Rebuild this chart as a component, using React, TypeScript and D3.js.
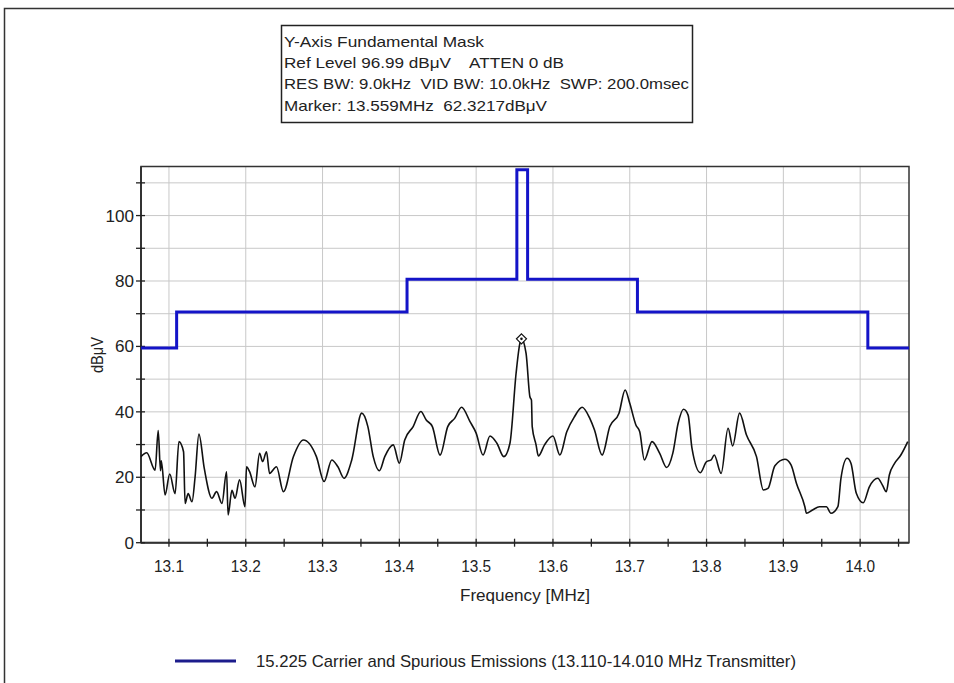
import React from "react";
import * as d3 from "d3";

// ---- data ----
const traceFreq = [
  13.0636, 13.071, 13.082, 13.086, 13.089, 13.09, 13.095, 13.101, 13.108, 13.113,
  13.119, 13.121, 13.125, 13.13, 13.134, 13.139, 13.146, 13.156, 13.162, 13.169,
  13.175, 13.177, 13.182, 13.186, 13.192, 13.199, 13.201, 13.205, 13.212, 13.218,
  13.222, 13.227, 13.231, 13.24, 13.249, 13.262, 13.275, 13.292, 13.302, 13.312,
  13.32, 13.328, 13.338, 13.351, 13.359, 13.366, 13.374, 13.381, 13.392, 13.4,
  13.407, 13.418, 13.428, 13.435, 13.443, 13.453, 13.463, 13.472, 13.481, 13.492,
  13.5, 13.509, 13.518, 13.527, 13.536, 13.544, 13.552, 13.557, 13.559, 13.565,
  13.57, 13.572, 13.573, 13.578, 13.581, 13.589, 13.6, 13.609, 13.618, 13.628,
  13.638, 13.648, 13.654, 13.664, 13.674, 13.686, 13.694, 13.7, 13.708, 13.713,
  13.719, 13.729, 13.739, 13.748, 13.756, 13.763, 13.77, 13.776, 13.781, 13.792,
  13.8, 13.806, 13.81, 13.819, 13.828, 13.834, 13.843, 13.852, 13.865, 13.874,
  13.88, 13.889, 13.902, 13.91, 13.917, 13.928, 13.93, 13.938, 13.947, 13.956,
  13.962, 13.971, 13.975, 13.983, 13.988, 13.995, 14.004, 14.012, 14.023, 14.029,
  14.034, 14.038, 14.045, 14.053, 14.062,
];
const traceLevel = [
  26.3, 27.5, 22.2, 34.3, 22, 25, 14.6, 21, 15, 30.9,
  27.8, 12, 15, 12.5, 20, 33.2, 22.7, 13.6, 15.6, 12,
  21.7, 8.5, 16, 13.6, 19.2, 11, 23.2, 21.7, 17.1, 27.3,
  24.8, 27.8, 21.2, 23.2, 15.6, 26.3, 31.4, 26.3, 18.7, 25.3,
  23.2, 19.7, 25.3, 39.6, 35.5, 26.3, 22, 26.3, 29.9, 24.3,
  31.4, 35.5, 40.1, 37.5, 35.5, 26.8, 35.5, 38, 41.4, 37,
  33.5, 26.8, 32.6, 30.4, 26.3, 30.4, 51.8, 61, 62.3, 57.9,
  44.6, 43.6, 35.5, 29.9, 26.5, 29.9, 32.6, 26.8, 33.9, 38.5,
  41.4, 38, 34.5, 26.8, 35.5, 39.6, 46.7, 42.6, 36, 33.9,
  25.3, 30.9, 27.3, 23, 27.3, 36.5, 40.8, 39, 28.9, 21.4,
  24.8, 25.3, 26.8, 21.2, 35, 29.6, 39.6, 32.9, 26.3, 16.1,
  16.6, 23.5, 25.5, 23.8, 18.2, 11, 9, 10, 11, 11,
  9, 11, 19.7, 25.8, 24.3, 15.1, 12.2, 17.1, 19.7, 17.6,
  15.6, 20.7, 24.3, 26.8, 30.9,
];
const maskFreq = [13.0636, 13.11, 13.41, 13.553, 13.567, 13.71, 14.01, 14.0636];
const maskLevel = [59.5, 70.5, 80.5, 114, 80.5, 70.5, 59.5, 59.5];
const markerFreq = 13.559;
const markerLevel = 62.3217;
const headerLines = [
  "Y-Axis Fundamental Mask",
  "Ref Level 96.99 dB\u03bcV    ATTEN 0 dB",
  "RES BW: 9.0kHz  VID BW: 10.0kHz  SWP: 200.0msec",
  "Marker: 13.559MHz  62.3217dB\u03bcV",
];
const headerWidths = [200, 280, 405, 263];
const xTickCount = 20; // 13.10 .. 14.05 by 0.05
const xLabelCount = 10; // 13.1 .. 14.0
const yTicks = [0, 10, 20, 30, 40, 50, 60, 70, 80, 90, 100, 110];
const yLabels = [0, 20, 40, 60, 80, 100];
const xTitle = "Frequency [MHz]";
const yTitle = "dB\u03bcV";
const legendText = "15.225 Carrier and Spurious Emissions (13.110-14.010 MHz Transmitter)";

const NARROW = "'Liberation Sans Narrow', 'Arial Narrow', 'Liberation Sans', Arial, sans-serif";
const SANS = "'Liberation Sans', Arial, sans-serif";

export default function App() {
  const left = 141, right = 909, top = 166.5, bottom = 542.7;
  const x = d3.scaleLinear().domain([13.0636, 14.0636]).range([left, right]);
  const y = d3.scaleLinear().domain([0, 115]).range([bottom, top]);

  const xTicks = d3.range(xTickCount).map((i) => 13.1 + i * 0.05);
  const xLabels = d3.range(xLabelCount).map((i) => 13.1 + i * 0.1);

  const traceLine = d3
    .line<number>()
    .x((_, i) => x(traceFreq[i]))
    .y((d) => y(d))
    .curve(d3.curveMonotoneX);
  const maskLine = d3
    .line<number>()
    .x((_, i) => x(maskFreq[i]))
    .y((d) => y(d))
    .curve(d3.curveStepAfter);

  const mx = x(markerFreq), my = y(markerLevel);

  return (
    <svg
      width={954}
      height={683}
      style={{ position: "absolute", left: 0, top: 0, background: "#fff" }}
    >
      <rect x={0} y={0} width={954} height={683} fill="#fff" />
      {/* outer frame */}
      <rect x={4.5} y={8.5} width={1000} height={1000} fill="none" stroke="#333" strokeWidth={1.5} />

      {/* header box */}
      <rect x={281.5} y={25.5} width={411} height={97} fill="#fff" stroke="#222" strokeWidth={1.5} />
      {headerLines.map((t, i) => (
        <text
          key={i}
          x={284}
          y={46.7 + i * 21.3}
          fontFamily={SANS}
          fontSize={15}
          fill="#222"
          textLength={headerWidths[i]}
          lengthAdjust="spacingAndGlyphs"
          style={{ whiteSpace: "pre" }}
        >
          {t}
        </text>
      ))}

      {/* grid */}
      {xLabels.map((v, i) => (
        <line key={"gx" + i} x1={x(v)} x2={x(v)} y1={top} y2={bottom} stroke="#c8c8c8" strokeWidth={1} />
      ))}
      {yTicks.slice(1).map((v, i) => (
        <line key={"gy" + i} x1={left} x2={right} y1={y(v)} y2={y(v)} stroke="#c8c8c8" strokeWidth={1} />
      ))}

      {/* plot border */}
      <rect x={left} y={top} width={right - left} height={bottom - top} fill="none" stroke="#333" strokeWidth={1.5} />
      <line x1={left} x2={left} y1={top} y2={bottom} stroke="#333" strokeWidth={2} />
      <line x1={left} x2={right} y1={bottom} y2={bottom} stroke="#333" strokeWidth={2} />

      {/* ticks */}
      {xTicks.map((v, i) => (
        <line key={"tx" + i} x1={x(v)} x2={x(v)} y1={bottom - 4} y2={bottom + 4} stroke="#222" strokeWidth={1.3} />
      ))}
      {yTicks.map((v, i) => (
        <line key={"ty" + i} x1={left - 5} x2={left + 4} y1={y(v)} y2={y(v)} stroke="#222" strokeWidth={1.3} />
      ))}
      {xLabels.map((v, i) => (
        <text
          key={"lx" + i}
          x={x(v)}
          y={572}
          textAnchor="middle"
          fontFamily={NARROW}
          fontSize={17}
          fill="#222"
          textLength={30}
          lengthAdjust="spacingAndGlyphs"
        >
          {d3.format(".1f")(v)}
        </text>
      ))}
      {yLabels.map((v, i) => {
        const s = String(v);
        return (
          <text
            key={"ly" + i}
            x={134}
            y={y(v) + 6}
            textAnchor="end"
            fontFamily={NARROW}
            fontSize={17}
            fill="#222"
            textLength={s.length * 9.5}
            lengthAdjust="spacingAndGlyphs"
          >
            {s}
          </text>
        );
      })}

      {/* axis titles */}
      <text
        x={525}
        y={601}
        textAnchor="middle"
        fontFamily={NARROW}
        fontSize={17}
        fill="#222"
        textLength={130}
        lengthAdjust="spacingAndGlyphs"
      >
        {xTitle}
      </text>
      <text
        transform={`translate(103, 355) rotate(-90)`}
        textAnchor="middle"
        fontFamily={NARROW}
        fontSize={17}
        fill="#222"
        textLength={36}
        lengthAdjust="spacingAndGlyphs"
      >
        {yTitle}
      </text>

      {/* mask */}
      <path d={maskLine(maskLevel) || ""} fill="none" stroke="#1414c8" strokeWidth={3} strokeLinejoin="miter" />

      {/* trace */}
      <path d={traceLine(traceLevel) || ""} fill="none" stroke="#111" strokeWidth={1.6} strokeLinejoin="round" />

      {/* marker */}
      <path
        d={`M${mx},${my - 5} L${mx + 5},${my} L${mx},${my + 5} L${mx - 5},${my} Z`}
        fill="#fff"
        stroke="#111"
        strokeWidth={1.2}
      />
      <circle cx={mx} cy={my} r={1.3} fill="#111" />

      {/* legend */}
      <line x1={175} x2={236} y1={661} y2={661} stroke="#1c1c8c" strokeWidth={3} />
      <text
        x={256}
        y={667}
        fontFamily={NARROW}
        fontSize={17}
        fill="#222"
        textLength={540}
        lengthAdjust="spacingAndGlyphs"
      >
        {legendText}
      </text>
    </svg>
  );
}
